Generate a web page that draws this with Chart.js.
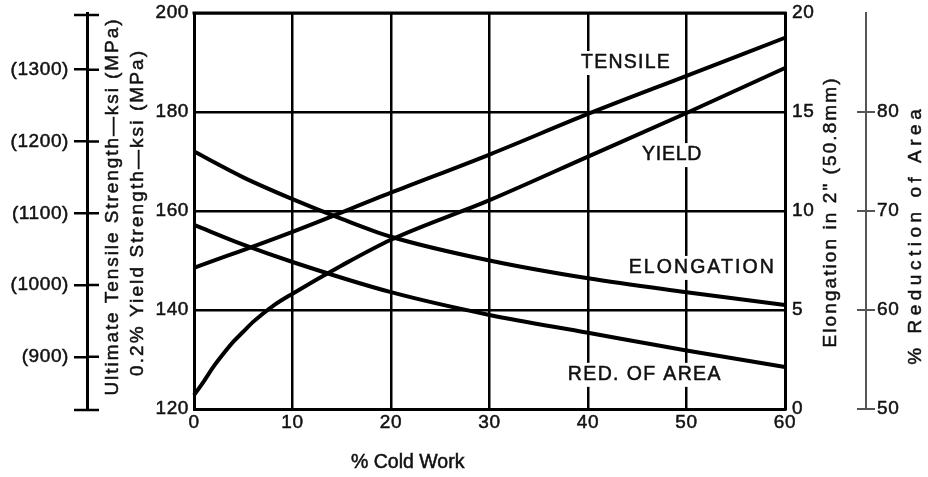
<!DOCTYPE html>
<html><head><meta charset="utf-8">
<script src="https://cdn.jsdelivr.net/npm/chart.js@4.4.1/dist/chart.umd.min.js"></script>
<style>html,body{margin:0;padding:0;background:#fff;overflow:hidden}#wrap{width:928px;height:477px;position:relative}</style>
</head><body><div id="wrap"><canvas id="c" width="928" height="477"></canvas></div>
<script>
// ---- data ----
const coldWorkPct = [0, 10, 20, 30, 40, 50, 60];
const tensileKsi = [148.5, 155.8, 163.7, 171.4, 179.6, 187.3, 195.0];
const yieldColdWork = [0, 1, 2, 3, 4, 5, 6, 8, 10, 15, 20, 30, 40, 50, 60];
const yieldKsi = [122.8, 125.6, 128.6, 131.2, 133.6, 135.6, 137.6, 140.8, 143.3, 149.0, 154.2, 162.2, 171.0, 179.8, 188.9];
const elongColdWork = [0, 5, 10, 15, 20, 30, 40, 50, 60];
const elongationPct = [13.0, 11.7, 10.6, 9.6, 8.7, 7.5, 6.6, 5.9, 5.25];
const raColdWork = [0, 5, 10, 20, 30, 40, 50, 60];
const reductionOfAreaPct = [68.6, 66.6, 64.85, 61.8, 59.5, 57.7, 55.9, 54.25];

const xTicks = [0, 10, 20, 30, 40, 50, 60];
const ksiTicks = [120, 140, 160, 180, 200];
const mpaTicks = [900, 1000, 1100, 1200, 1300];
const elongTicks = [0, 5, 10, 15, 20];
const raTicks = [50, 60, 70, 80];
const KSI_TO_MPA = 6.894757;

const curveNames = ['TENSILE', 'YIELD', 'ELONGATION', 'RED. OF AREA'];
const titleX = '% Cold Work';
const titleKsi = ['Ultimate Tensile Strength\u2014ksi (MPa)', '0.2% Yield Strength\u2014ksi (MPa)'];
const titleElong = 'Elongation in 2" (50.8mm)';
const titleRA = '% Reduction of Area';

// ---- label placement (data units on x / ksi axes) ----
const labelPlacement = [
  { x: 43.8, ksi: 189.9, len: 90 },
  { x: 48.5, ksi: 171.3, len: 60 },
  { x: 51.5, ksi: 148.5, len: 147 },
  { x: 45.7, ksi: 126.9, len: 154 }
];

const pts = (xs, ys) => xs.map((x, i) => ({ x: x, y: ys[i] }));
const FONT = '"Liberation Sans", Arial, Helvetica, sans-serif';
const INK = '#111';

function spacedText(ctx, text, x, y, size, targetLen, rot) {
  ctx.save();
  ctx.translate(x, y);
  if (rot) ctx.rotate(rot);
  ctx.font = size + 'px ' + FONT;
  ctx.letterSpacing = '0px';
  const w = ctx.measureText(text).width;
  const sp = Math.max(0, (targetLen - w) / text.length);
  ctx.letterSpacing = sp + 'px';
  ctx.textAlign = 'center';
  ctx.textBaseline = 'middle';
  ctx.fillStyle = INK;
  ctx.strokeStyle = INK;
  ctx.lineWidth = 0.5;
  ctx.fillText(text, sp / 2, 0);
  ctx.strokeText(text, sp / 2, 0);
  ctx.restore();
}

const noPad = s => { s.paddingTop = 0; s.paddingBottom = 0; s.paddingLeft = 0; s.paddingRight = 0; };

const decor = {
  id: 'decor',
  beforeDraw(chart) {
    const ctx = chart.ctx;
    ctx.save();
    ctx.fillStyle = '#fff';
    ctx.fillRect(0, 0, chart.width, chart.height);
    ctx.restore();
    ctx.letterSpacing = '0.6px';
  },
  afterDraw(chart) {
    const ctx = chart.ctx;
    const a = chart.chartArea;
    const sx = chart.scales.x, sk = chart.scales.yKsi, sm = chart.scales.yMPa, sr = chart.scales.yRA;
    ctx.save();
    ctx.letterSpacing = '0px';
    // frame top
    ctx.strokeStyle = '#000';
    ctx.lineWidth = 3;
    ctx.beginPath();
    ctx.moveTo(a.left - 1.5, a.top);
    ctx.lineTo(a.right + 1.5, a.top);
    ctx.stroke();
    // MPa axis: right halves of ticks + end caps
    const mx = sm.right;
    ctx.lineWidth = 2.5;
    ctx.beginPath();
    mpaTicks.forEach(v => {
      const y = sm.getPixelForValue(v);
      ctx.moveTo(mx, y); ctx.lineTo(mx + 12, y);
    });
    ctx.moveTo(mx - 13, sm.top + 2); ctx.lineTo(mx + 12, sm.top + 2);
    ctx.moveTo(mx - 13, sm.bottom + 1); ctx.lineTo(mx + 12, sm.bottom + 1);
    ctx.stroke();
    // RA axis: left halves of ticks
    const rx = sr.left;
    ctx.strokeStyle = '#555';
    ctx.lineWidth = 2;
    ctx.beginPath();
    raTicks.forEach(v => {
      const y = sr.getPixelForValue(v);
      ctx.moveTo(rx - 9, y); ctx.lineTo(rx, y);
    });
    ctx.stroke();
    // curve labels with white backing
    labelPlacement.forEach((p, i) => {
      const cx = sx.getPixelForValue(p.x), cy = sk.getPixelForValue(p.ksi);
      ctx.fillStyle = '#fff';
      ctx.fillRect(cx - p.len / 2 - 5, cy - 12, p.len + 10, 24);
      spacedText(ctx, curveNames[i], cx, cy, 19.5, p.len, 0);
    });
    // axis titles
    const mid = (a.top + a.bottom) / 2;
    spacedText(ctx, titleKsi[0], sk.left + 26, mid - 3.5, 19, 378, -Math.PI / 2);
    spacedText(ctx, titleKsi[1], sk.left + 51, mid + 2.5, 19, 327, -Math.PI / 2);
    spacedText(ctx, titleElong, a.right + 46, mid + 2, 19, 271, -Math.PI / 2);
    spacedText(ctx, titleRA, sr.left + 50, mid + 26, 19, 260, -Math.PI / 2);
    spacedText(ctx, titleX, sx.getPixelForValue(21.7), sx.bottom - 14, 19.5, 110, 0);
    ctx.restore();
  }
};

const tickFont = { family: FONT, size: 19 };
const tickStyle = { font: tickFont, color: INK, textStrokeColor: INK, textStrokeWidth: 0.5 };

new Chart(document.getElementById('c'), {
  type: 'scatter',
  data: {
    datasets: [
      { label: 'Tensile', data: pts(coldWorkPct, tensileKsi), yAxisID: 'yKsi' },
      { label: 'Yield', data: pts(yieldColdWork, yieldKsi), yAxisID: 'yKsi' },
      { label: 'Elongation', data: pts(elongColdWork, elongationPct), yAxisID: 'yElong' },
      { label: 'Red. of Area', data: pts(raColdWork, reductionOfAreaPct), yAxisID: 'yRA' }
    ].map(d => Object.assign(d, {
      showLine: true, borderColor: '#000', borderWidth: 4, pointRadius: 0,
      tension: 0.4, cubicInterpolationMode: 'monotone', fill: false, clip: false
    }))
  },
  options: {
    responsive: false,
    devicePixelRatio: 1,
    animation: false,
    events: [],
    layout: { padding: { top: 13, left: 0, right: 0, bottom: 0 } },
    plugins: { legend: { display: false }, tooltip: { enabled: false }, title: { display: false } },
    scales: {
      x: {
        type: 'linear', position: 'bottom', min: 0, max: 60,
        afterBuildTicks: s => { s.ticks = xTicks.map(v => ({ value: v })); },
        ticks: Object.assign({ padding: 2, maxRotation: 0 }, tickStyle),
        grid: { color: '#000', lineWidth: 2.5, drawTicks: false },
        border: { display: true, color: '#000', width: 3 },
        afterFit: s => { s.height = 68; noPad(s); }
      },
      yKsi: {
        type: 'linear', position: 'left', weight: 0, min: 120, max: 200,
        afterBuildTicks: s => { s.ticks = ksiTicks.map(v => ({ value: v })); },
        ticks: Object.assign({ padding: 5 }, tickStyle),
        grid: { color: '#000', lineWidth: 2.5, drawTicks: false },
        border: { display: true, color: '#000', width: 3 },
        afterFit: s => { s.width = 107; noPad(s); }
      },
      yMPa: {
        type: 'linear', position: 'left', weight: 1,
        min: 120 * KSI_TO_MPA, max: 200 * KSI_TO_MPA,
        afterBuildTicks: s => { s.ticks = mpaTicks.map(v => ({ value: v })); },
        ticks: Object.assign({ padding: 5, callback: v => '(' + v + ')' }, tickStyle),
        grid: { drawOnChartArea: false, drawTicks: true, tickLength: 13, color: '#000', lineWidth: 2.5 },
        border: { display: true, color: '#000', width: 3 },
        afterFit: s => { s.width = 87; noPad(s); }
      },
      yElong: {
        type: 'linear', position: 'right', weight: 0, min: 0, max: 20,
        afterBuildTicks: s => { s.ticks = elongTicks.map(v => ({ value: v })); },
        ticks: Object.assign({ padding: 7 }, tickStyle),
        grid: { drawOnChartArea: false, drawTicks: false },
        border: { display: true, color: '#000', width: 3 },
        afterFit: s => { s.width = 81; noPad(s); }
      },
      yRA: {
        type: 'linear', position: 'right', weight: 1, min: 50, max: 90,
        afterBuildTicks: s => { s.ticks = raTicks.map(v => ({ value: v })); },
        ticks: Object.assign({ padding: 2 }, tickStyle),
        grid: { drawOnChartArea: false, drawTicks: true, tickLength: 9, color: '#555', lineWidth: 2 },
        border: { display: true, color: '#555', width: 2 },
        afterFit: s => { s.width = 62; noPad(s); }
      }
    }
  },
  plugins: [decor]
});
</script>
</body></html>
